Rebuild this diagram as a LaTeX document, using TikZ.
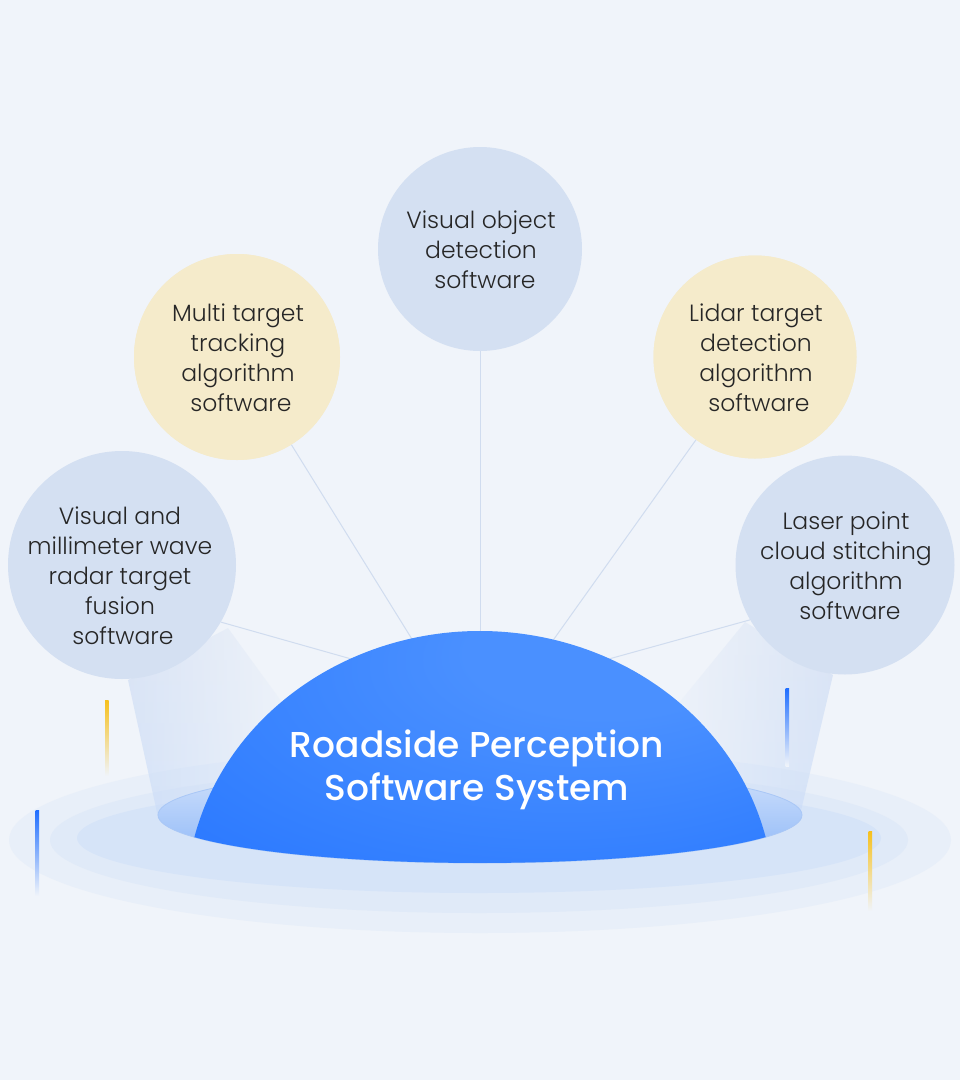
\documentclass[tikz,border=0pt]{standalone}
\usepackage{fontspec}
\setmainfont{Poppins}[UprightFont=* Light, BoldFont=* Medium]
\usetikzlibrary{fadings}
\definecolor{bg}{HTML}{F0F4FA}
\definecolor{ringA}{HTML}{E8EFF9}
\definecolor{ringB}{HTML}{E0EAF8}
\definecolor{ringC}{HTML}{D6E4F8}
\definecolor{bluec}{HTML}{D4E0F2}
\definecolor{yelc}{HTML}{F5EBCB}
\definecolor{txt}{HTML}{262626}
\definecolor{conn}{HTML}{D0DCEF}
\definecolor{domeL}{HTML}{4A90FF}
\definecolor{domeM}{HTML}{3480FF}
\definecolor{domeD}{HTML}{1C6CFF}
\definecolor{baseT}{HTML}{D2E2FB}
\definecolor{baseB}{HTML}{8DB7F8}
\definecolor{baseE}{HTML}{A9C7F6}
\definecolor{beamT}{HTML}{D3DFF3}
\definecolor{beamB}{HTML}{CADCF8}
\definecolor{accY}{HTML}{F6C01C}
\definecolor{accB}{HTML}{1F6EFF}
\pgfdeclareradialshading{domeshade}{\pgfpoint{14bp}{20bp}}{color(0bp)=(domeL); color(12bp)=(domeL); color(32bp)=(domeM); color(55bp)=(domeD)}
\tikzset{
  bubble/.style={circle, inner sep=0pt, minimum size=#1},
  bluebubble/.style={bubble=#1, fill=bluec},
  yelbubble/.style={bubble=#1, fill=yelc},
  label/.style={align=center, text=txt, font=\fontsize{23.5}{30}\selectfont, inner sep=0pt},
  connector/.style={draw=conn, line width=1pt},
  beam/.style={top color=beamT, bottom color=beamB, fill opacity=0.7, draw=none}
}
\begin{document}
\begin{tikzpicture}[x=1pt,y=-1pt]
\useasboundingbox (0,0) rectangle (960,1080);
\fill[bg] (0,0) rectangle (960,1080);
% rings
\fill[ringA] (480,840) ellipse [x radius=471, y radius=93];
\fill[ringB] (479,840) ellipse [x radius=429, y radius=73];
\fill[ringC] (479,838) ellipse [x radius=402, y radius=55];
% beams
\path[beam, path fading=east] (128,680) -- (158,817) -- (310,817) -- (295,720) -- (228,628) -- cycle;
\path[beam, path fading=west] (833,675) -- (800,815) -- (650,817) -- (665,720) -- (745,622) -- cycle;
% circles
\node[bluebubble=204] (vod) at (480,249) {};
\node[yelbubble=206] (mtt) at (237,357) {};
\node[yelbubble=203] (ltd) at (755,357) {};
\node[bluebubble=228] (vmf) at (122,565) {};
\node[bluebubble=219] (lpc) at (845,565) {};
% dome anchor coordinates
\coordinate (dTop) at (480,640);
\coordinate (dMtt) at (415,644);
\coordinate (dLtd) at (549,646);
\coordinate (dVmf) at (362,662);
\coordinate (dLpc) at (598,662);
% connectors
\draw[connector] (vod.south) -- (dTop);
\draw[connector] (mtt) -- (dMtt);
\draw[connector] (ltd) -- (dLtd);
\draw[connector] (vmf.-30) -- (dVmf);
\draw[connector] (lpc.210) -- (dLpc);
% redraw circles over connector starts
\fill[yelc] (mtt) circle [radius=103];
\fill[yelc] (ltd) circle [radius=101.5];
% accent bars
\shade[top color=accY, bottom color=bg] (105,700) rectangle (108.5,776);
\shade[top color=accB, bottom color=bg] (35.5,810) rectangle (39,896);
\shade[top color=accB, bottom color=bg] (785.5,688) rectangle (789,766);
\shade[top color=accY, bottom color=bg] (868.5,831) rectangle (872,911);
% base ellipse
\shade[top color=baseT, bottom color=baseB, draw=baseE, line width=0.8pt] (480,815) ellipse [x radius=322, y radius=48];
% dome
\path[shading=domeshade] (194.4,837.1) arc[start angle=193.7, end angle=346.3, x radius=294, y radius=270] -- (766.3,836.9) arc[start angle=27.2, end angle=152.8, x radius=322, y radius=48] -- cycle;
% title
\node[align=center, text=white, font=\bfseries\fontsize{36}{43}\selectfont, inner sep=0pt] (title) at (477,770) {Roadside Perception\\Software System};
% labels
\node[label] (tvod) at (481,250) {Visual object\\detection\\\hspace*{8pt}software};
\node[label] (tmtt) at (238,358) {Multi target\\tracking\\algorithm\\\hspace*{6pt}software};
\node[label] (tltd) at (756,358) {Lidar target\\detection\\algorithm\\\hspace*{6pt}software};
\node[label] (tvmf) at (120,576) {Visual and\\millimeter wave\\radar target\\fusion\\\hspace*{6pt}software};
\node[label] (tlpc) at (846,566) {Laser point\\cloud stitching\\algorithm\\\hspace*{8pt}software};
\end{tikzpicture}
\end{document}
